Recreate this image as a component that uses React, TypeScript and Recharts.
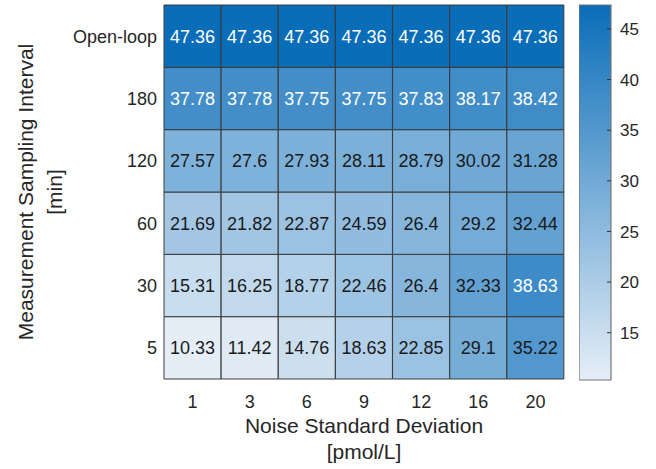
import { Bar, BarChart, Cell, Label, LabelList, XAxis, YAxis } from "recharts";

const noiseLevels = ["1", "3", "6", "9", "12", "16", "20"];
// bottom row first
const intervals = ["5", "30", "60", "120", "180", "Open-loop"];

const rmse5 = [10.33, 11.42, 14.76, 18.63, 22.85, 29.1, 35.22];
const rmse30 = [15.31, 16.25, 18.77, 22.46, 26.4, 32.33, 38.63];
const rmse60 = [21.69, 21.82, 22.87, 24.59, 26.4, 29.2, 32.44];
const rmse120 = [27.57, 27.6, 27.93, 28.11, 28.79, 30.02, 31.28];
const rmse180 = [37.78, 37.78, 37.75, 37.75, 37.83, 38.17, 38.42];
const rmseOpen = [47.36, 47.36, 47.36, 47.36, 47.36, 47.36, 47.36];

const colorTicks = [15, 20, 25, 30, 35, 40, 45];

const rows = [rmse5, rmse30, rmse60, rmse120, rmse180, rmseOpen];
const allValues = rows.flat();
const cMin = Math.min(...allValues);
const cMax = Math.max(...allValues);

const LOW = [229, 238, 247];
const HIGH = [10, 109, 184];
const FONT = "'Liberation Sans', Arial, Helvetica, sans-serif";
const INK = "#262626";

function cellColor(v: number) {
  const t = (v - cMin) / (cMax - cMin);
  const c = LOW.map((lo, i) => Math.round(lo + (HIGH[i] - lo) * t));
  return `rgb(${c[0]},${c[1]},${c[2]})`;
}

const tableData = noiseLevels.map((noise, j) => {
  const row: Record<string, string | number> = { noise };
  rows.forEach((r, i) => {
    row[`r${i}`] = 1;
    row[`v${i}`] = r[j];
  });
  return row;
});

const colorbarData = [{ k: "c", span: [cMin, cMax] }];

const renderCellLabel = (props: any) => {
  const { x, y, width, height, value } = props;
  const v = Number(value);
  return (
    <text
      x={x + width / 2}
      y={y + height / 2}
      dy="0.36em"
      textAnchor="middle"
      fontSize={18}
      fontFamily={FONT}
      fill={v > 36 ? "#ffffff" : "#1a1a1a"}
    >
      {String(v)}
    </text>
  );
};

const XTick = (props: any) => {
  const { x, y, payload } = props;
  return (
    <text x={x} y={y + 23} dy="0.36em" textAnchor="middle" fontSize={18} fontFamily={FONT} fill={INK}>
      {payload.value}
    </text>
  );
};

const YTick = (props: any) => {
  const { x, y, payload } = props;
  return (
    <text x={x - 7} y={y} dy="0.36em" textAnchor="end" fontSize={18} fontFamily={FONT} fill={INK}>
      {intervals[Math.floor(payload.value)]}
    </text>
  );
};

const ColorTick = (props: any) => {
  const { x, y, payload } = props;
  return (
    <g>
      <line x1={x - 4} x2={x} y1={y} y2={y} stroke="#333" strokeWidth={1} />
      <text x={x + 9} y={y} dy="0.36em" textAnchor="start" fontSize={17} fontFamily={FONT} fill={INK}>
        {payload.value}
      </text>
    </g>
  );
};

const XTitle = (props: any) => {
  const { x, y, width } = props.viewBox;
  const cx = x + width / 2;
  return (
    <text textAnchor="middle" fontSize={21} fontFamily={FONT} fill={INK}>
      <tspan x={cx} y={y + 54}>Noise Standard Deviation</tspan>
      <tspan x={cx} y={y + 80}>[pmol/L]</tspan>
    </text>
  );
};

const YTitle = (props: any) => {
  const { y, height } = props.viewBox;
  const cy = y + height / 2;
  return (
    <g>
      <text x={33} y={cy} transform={`rotate(-90 33 ${cy})`} textAnchor="middle" fontSize={21} fontFamily={FONT} fill={INK}>
        Measurement Sampling Interval
      </text>
      <text x={62} y={cy} transform={`rotate(-90 62 ${cy})`} textAnchor="middle" fontSize={21} fontFamily={FONT} fill={INK}>
        [min]
      </text>
    </g>
  );
};

export default function App() {
  return (
    <div style={{ position: "absolute", left: 0, top: 0, width: 656, height: 469, background: "#fff" }}>
      <BarChart
        width={656}
        height={469}
        data={tableData}
        barCategoryGap={0}
        barGap={0}
        margin={{ top: 5, right: 92, bottom: 0, left: 0 }}
      >
        <XAxis
          dataKey="noise"
          height={90}
          axisLine={false}
          tickLine={false}
          tickSize={0}
          tickMargin={0}
          tick={<XTick />}
          interval={0}
        >
          <Label content={<XTitle />} />
        </XAxis>
        <YAxis
          type="number"
          width={164}
          domain={[0, rows.length]}
          ticks={rows.map((_, i) => i + 0.5)}
          axisLine={false}
          tickLine={false}
          tickSize={0}
          tickMargin={0}
          tick={<YTick />}
        >
          <Label content={<YTitle />} />
        </YAxis>
        {rows.map((r, i) => (
          <Bar key={i} dataKey={`r${i}`} stackId="hm" isAnimationActive={false}>
            {r.map((v, j) => (
              <Cell key={j} fill={cellColor(v)} stroke="#3a3a3a" strokeWidth={1} />
            ))}
            <LabelList dataKey={`v${i}`} content={renderCellLabel} />
          </Bar>
        ))}
      </BarChart>

      <div style={{ position: "absolute", left: 579, top: 0 }}>
        <BarChart
          width={80}
          height={469}
          data={colorbarData}
          barCategoryGap={0}
          margin={{ top: 5, right: 0, bottom: 89, left: 0 }}
        >
          <defs>
            <linearGradient id="cbGrad" x1="0" y1="0" x2="0" y2="1">
              <stop offset="0%" stopColor={cellColor(cMax)} />
              <stop offset="100%" stopColor={cellColor(cMin)} />
            </linearGradient>
          </defs>
          <XAxis dataKey="k" hide />
          <YAxis
            type="number"
            orientation="right"
            width={48}
            domain={[cMin, cMax]}
            ticks={colorTicks}
            axisLine={false}
            tickLine={false}
            tickSize={0}
            tickMargin={0}
            tick={<ColorTick />}
          />
          <Bar dataKey="span" fill="url(#cbGrad)" stroke="#777" strokeWidth={1.2} isAnimationActive={false} />
        </BarChart>
      </div>
    </div>
  );
}
